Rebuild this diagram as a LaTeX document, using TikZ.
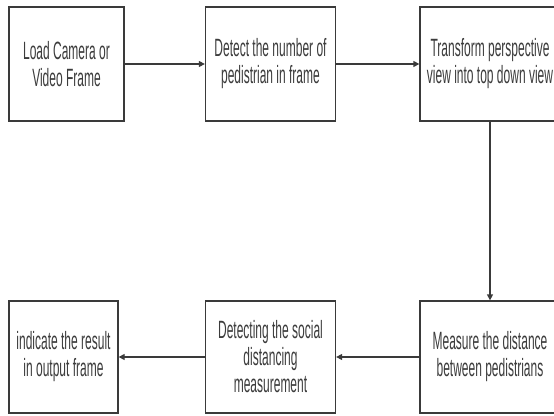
\documentclass[tikz,border=0pt]{standalone}
\usepackage{fontspec}
\setmainfont{Liberation Sans}[FakeStretch=0.48]
\usetikzlibrary{arrows.meta}
\definecolor{ln}{HTML}{3A3A3A}
\definecolor{tx}{HTML}{3C3C3C}
\begin{document}
\begin{tikzpicture}[x=1pt,y=-1pt,
  box/.style={draw=ln,line width=1.3pt,fill=white,align=center,inner sep=0pt,
    text=tx,font=\fontsize{25}{27}\selectfont},
  conn/.style={draw=ln,line width=1.3pt,-{Triangle[length=6pt,width=6pt]}}]
\useasboundingbox (0,0) rectangle (554,415);
\clip (0,0) rectangle (554,415);
\node[box,minimum width=115pt,minimum height=114pt] (b1) at (66.5,64) {Load Camera or\\Video Frame};
\node[box,minimum width=130pt,minimum height=114pt] (b2) at (270.5,64) {Detect the number of\\pedistrian in frame};
\node[box,minimum width=140pt,minimum height=114pt] (b3) at (490,64) {Transform perspective\\view into top down view};
\node[box,minimum width=140pt,minimum height=112pt] (b6) at (490,357) {Measure the distance\\between pedistrians};
\node[box,minimum width=130pt,minimum height=112pt] (b5) at (270.5,357) {Detecting the social\\distancing\\measurement};
\node[box,minimum width=109pt,minimum height=112pt] (b4) at (63.5,357) {indicate the result\\in output frame};
\draw[conn] (b1) -- (b2);
\draw[conn] (b2) -- (b3);
\draw[conn] (b3) -- (b6);
\draw[conn] (b6) -- (b5);
\draw[conn] (b5) -- (b4);
\end{tikzpicture}
\end{document}
